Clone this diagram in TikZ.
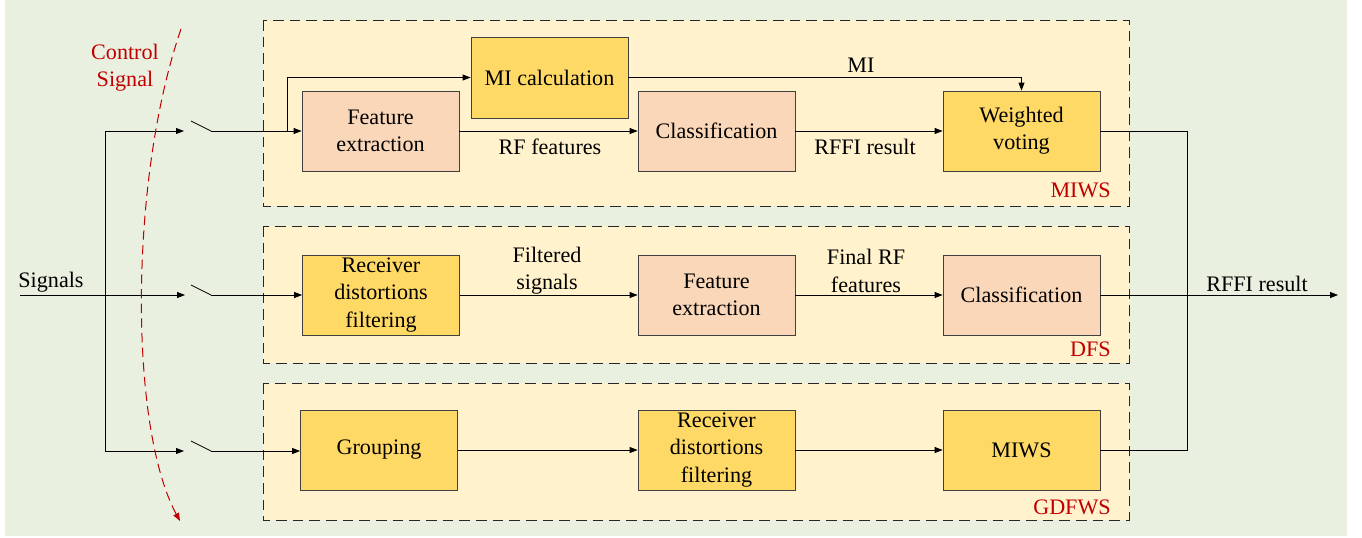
\documentclass[tikz,border=0pt]{standalone}
\usepackage{fontspec}
\setmainfont{Liberation Serif}
\newfontfamily\labelfont{Liberation Serif}
\usetikzlibrary{arrows.meta}
\definecolor{bggreen}{HTML}{E9F0DF}
\definecolor{groupfill}{HTML}{FFF2CC}
\definecolor{peach}{HTML}{FAD7B9}
\definecolor{gold}{HTML}{FFD966}
\definecolor{edgegray}{HTML}{404040}
\definecolor{dashgray}{HTML}{262626}
\definecolor{ctrlred}{HTML}{C00000}
\tikzset{
  txt/.style={font=\labelfont\fontsize{16.6}{20.5}\selectfont, align=center, inner sep=0pt},
  blk/.style={txt, draw=edgegray, line width=0.6pt, minimum width=117.75pt, minimum height=60pt},
  peachblk/.style={blk, fill=peach},
  goldblk/.style={blk, fill=gold},
  group/.style={draw=dashgray, fill=groupfill, line width=0.75pt, dash pattern=on 8pt off 4.5pt},
  wire/.style={line width=0.6pt, black},
  arr/.style={wire, -{Triangle[length=6pt,width=4.5pt]}},
  tag/.style={txt, text=ctrlred},
}
\begin{document}
\begin{tikzpicture}[x=0.75pt, y=-0.75pt]
\useasboundingbox (0,0) rectangle (1362,537);
\fill[bggreen] (5,0) rectangle (1347,535.5);

% stage groups
\draw[group] (263,20) rectangle (1129,206);
\draw[group] (263,226) rectangle (1129,363);
\draw[group] (263,383) rectangle (1129,520);

% MIWS stage
\node[peachblk] (fe1) at (380.5,131) {Feature\\extraction};
\node[goldblk, minimum height=60.75pt] (mi) at (549.5,77.5) {MI calculation};
\node[peachblk] (cl1) at (716.5,131) {Classification};
\node[goldblk] (wv) at (1021.5,131) {Weighted\\voting};
\node[tag, anchor=base east] (tmiws) at (1111,197) {MIWS};

% DFS stage
\node[goldblk] (rd2) at (381,295) {Receiver\\distortions\\filtering};
\node[peachblk] (fe2) at (716.5,295) {Feature\\extraction};
\node[peachblk] (cl2) at (1021.5,295) {Classification};
\node[tag, anchor=base east] (tdfs) at (1111,356) {DFS};

% GDFWS stage
\node[goldblk] (gr3) at (379,450) {Grouping};
\node[goldblk] (rd3) at (716.5,450) {Receiver\\distortions\\filtering};
\node[goldblk] (mw3) at (1021.5,450) {MIWS};
\node[tag, anchor=base east] (tgd) at (1111,514) {GDFWS};

% input distribution
\coordinate (in) at (20,295);
\coordinate (split) at (105,295);
\coordinate (a1) at (184,131);
\coordinate (a2) at (185,295);
\coordinate (a3) at (184,451);
\node[txt, anchor=base] (lsig) at (51,287) {Signals};
\draw[arr] (in) -- (a2);
\draw[arr] (split) |- (a1);
\draw[arr] (split) |- (a3);

% switches
\coordinate (s1a) at (191,121);
\coordinate (s1b) at (211,131);
\coordinate (s2a) at (191,285);
\coordinate (s2b) at (211,295);
\coordinate (s3a) at (191,441);
\coordinate (s3b) at (211,451);
\draw[wire] (s1a) -- (s1b);
\draw[wire] (s2a) -- (s2b);
\draw[wire] (s3a) -- (s3b);
\draw[arr] (s1b) -- (fe1.west);
\draw[arr] (s2b) -- (rd2.west);
\draw[arr] (s3b) -- (gr3.west |- s3b);

% MIWS connections
\coordinate (br) at (287,131);
\draw[arr] (br) |- (mi.west);
\draw[arr] (fe1.east) -- (cl1.west);
\draw[arr] (cl1.east) -- (wv.west);
\draw[arr] (mi.east) -| (wv.north);
\node[txt, anchor=base] (lmi) at (861,72) {MI};
\node[txt, anchor=base] (lrf) at (550,154) {RF features};
\node[txt, anchor=base] (lrr) at (865,154) {RFFI result};

% DFS connections
\draw[arr] (rd2.east) -- (fe2.west);
\draw[arr] (fe2.east) -- (cl2.west);
\node[txt] (lfs) at (547,271) {Filtered\\signals};
\node[txt] (lfr) at (866,271) {Final RF\\features};

% GDFWS connections
\draw[arr] (gr3.east) -- (rd3.west);
\draw[arr] (rd3.east) -- (mw3.west);

% output
\coordinate (bus) at (1187,131);
\coordinate (out) at (1338,295);
\draw[wire] (wv.east) -- (bus) |- (mw3.east);
\draw[arr] (cl2.east) -- (out);
\node[txt, anchor=base] (lout) at (1257,291) {RFFI result};

% control signal
\coordinate (c0) at (181,29);
\coordinate (c1) at (180,521);
\draw[ctrlred, line width=0.75pt, dash pattern=on 7pt off 4pt, -{Triangle[length=6pt,width=4.5pt]}]
  (c0) .. controls (129,180) and (129,427) .. (c1);
\node[tag] (lctrl) at (125,68) {Control\\Signal};
\end{tikzpicture}
\end{document}
